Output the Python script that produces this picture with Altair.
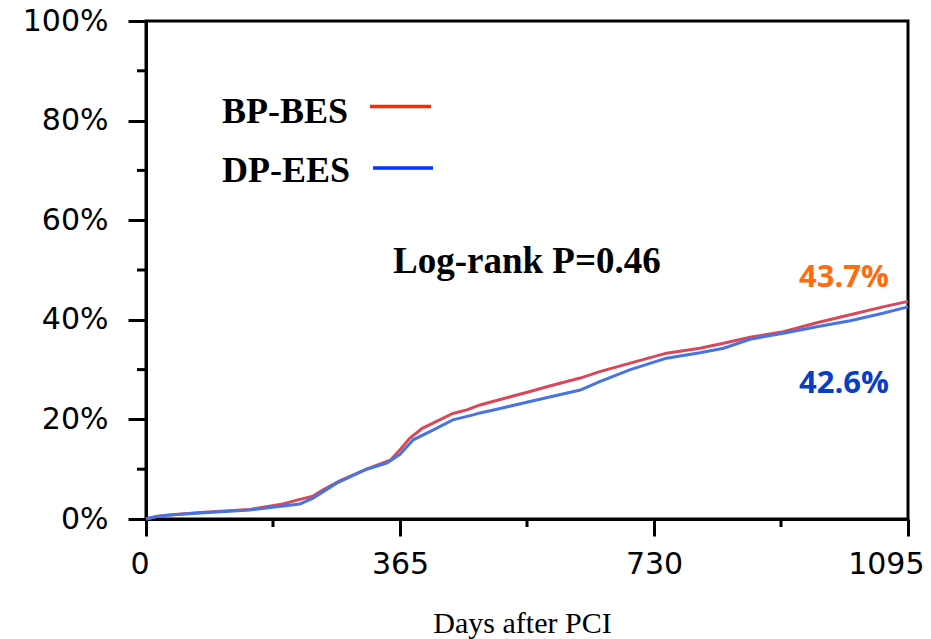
import altair as alt
import pandas as pd

# ---- data ----
series = ["BP-BES", "DP-EES"]
curve_colors = ["#D8475A", "#4675E2"]

days_bp = [0, 15, 34, 78, 149, 197, 217, 240, 254, 279, 317, 351, 365, 379, 397, 422, 441, 461,
           480, 509, 552, 580, 624, 652, 696, 748, 796, 830, 868, 916, 964, 1012, 1059, 1095]
pct_bp = [0, 0.5, 0.8, 1.3, 1.9, 3.0, 3.8, 4.6, 5.8, 7.7, 10.0, 11.8, 13.9, 16.2, 18.2, 19.9, 21.2, 21.9,
          22.9, 24.0, 25.6, 26.7, 28.3, 29.6, 31.3, 33.3, 34.3, 35.3, 36.5, 37.6, 39.4, 41.0, 42.6, 43.7]

days_dp = [0, 15, 34, 78, 149, 197, 221, 240, 274, 317, 346, 365, 384, 413, 441, 470, 480, 509,
           552, 580, 624, 652, 696, 748, 796, 830, 868, 916, 964, 1012, 1059, 1095]
pct_dp = [0, 0.5, 0.8, 1.2, 1.8, 2.6, 3.0, 4.2, 7.2, 10.0, 11.2, 13.0, 15.9, 17.9, 19.9, 20.9, 21.3, 22.2,
          23.6, 24.5, 25.9, 27.6, 30.0, 32.3, 33.4, 34.3, 36.1, 37.3, 38.6, 39.8, 41.3, 42.6]

x_ticks = [0, 365, 730, 1095]
x_minor = [182.5, 547.5, 912.5]
y_ticks = [0, 20, 40, 60, 80, 100]
y_minor = [10, 30, 50, 70, 90]
final_labels = ["43.7%", "42.6%"]
pvalue_label = "Log-rank P=0.46"
x_title = "Days after PCI"

W, H = 762, 498

df = pd.concat([
    pd.DataFrame({"day": days_bp, "pct": pct_bp, "group": series[0]}),
    pd.DataFrame({"day": days_dp, "pct": pct_dp, "group": series[1]}),
], ignore_index=True)

xs = alt.Scale(domain=[0, 1095], nice=False, zero=False)
ys = alt.Scale(domain=[0, 100], nice=False)

x_axis = alt.Axis(
    values=x_ticks, format="d", grid=False, tickSize=17, tickWidth=3, tickColor="black",
    domainWidth=3, domainColor="black",
    labelFont="DejaVu Sans", labelFontSize=30, labelColor="black", labelPadding=13,
    labelFlush=True, labelFlushOffset=16, labelOverlap=False,
    title=x_title, titleFont="Liberation Serif", titleFontSize=30, titleFontWeight="normal",
    titleColor="black", titleX=376, titleY=113, titleBaseline="alphabetic", titleAlign="center",
)
y_axis = alt.Axis(
    values=y_ticks, grid=False, tickSize=18, tickWidth=3, tickColor="black",
    domainWidth=3, domainColor="black", labelExpr="datum.value + '%'",
    labelFont="DejaVu Sans", labelFontSize=30, labelColor="black", labelPadding=20,
    labelOverlap=False, title="",
)

lines = alt.Chart(df).mark_line(strokeWidth=3).encode(
    x=alt.X("day:Q", scale=xs, axis=x_axis),
    y=alt.Y("pct:Q", scale=ys, axis=y_axis),
    color=alt.Color("group:N", scale=alt.Scale(domain=series, range=curve_colors), legend=None),
    detail="group:N",
)

y_minor_ticks = alt.Chart(pd.DataFrame({"pct": y_minor})).mark_rule(color="black", strokeWidth=3).encode(
    y=alt.Y("pct:Q", scale=ys, axis=y_axis), x=alt.value(-9), x2=alt.value(0)
)
x_minor_ticks = alt.Chart(pd.DataFrame({"day": x_minor})).mark_rule(color="black", strokeWidth=3).encode(
    x=alt.X("day:Q", scale=xs, axis=x_axis), y=alt.value(H), y2=alt.value(H + 8)
)

def label(text, x, y, font, size, color, weight="bold", align="left"):
    return alt.Chart(pd.DataFrame({"t": [text]})).mark_text(
        font=font, fontSize=size, fontWeight=weight, color=color, align=align, baseline="alphabetic"
    ).encode(text="t:N", x=alt.value(x), y=alt.value(y))

leg1 = label(series[0], 76, 102, "Liberation Serif", 36, "black")
leg2 = label(series[1], 76, 161, "Liberation Serif", 36, "black")
leg_line1 = alt.Chart(pd.DataFrame({"g": [series[0]]})).mark_rule(color="#FF2A00", strokeWidth=3.5).encode(
    x=alt.value(224), x2=alt.value(285), y=alt.value(85.5)
)
leg_line2 = alt.Chart(pd.DataFrame({"g": [series[1]]})).mark_rule(color="#0033FF", strokeWidth=3.5).encode(
    x=alt.value(227), x2=alt.value(287), y=alt.value(147)
)
ptext = label(pvalue_label, 247, 252, "Liberation Serif", 37, "black")
end1 = label(final_labels[0], 698, 266, "Open Sans", 31, "#FF6B0F", align="center")
end2 = label(final_labels[1], 698, 372, "Open Sans", 31, "#0A3CC8", align="center")

chart = alt.layer(
    lines, y_minor_ticks, x_minor_ticks, leg1, leg2, leg_line1, leg_line2, ptext, end1, end2
).properties(
    width=W, height=H,
    autosize=alt.AutoSizeParams(type="none"),
    padding={"left": 146, "top": 21, "right": 23, "bottom": 120},
    background="white",
).configure_view(stroke="black", strokeWidth=3)

chart.save("out.html", embed_options={"renderer": "svg", "actions": False})
